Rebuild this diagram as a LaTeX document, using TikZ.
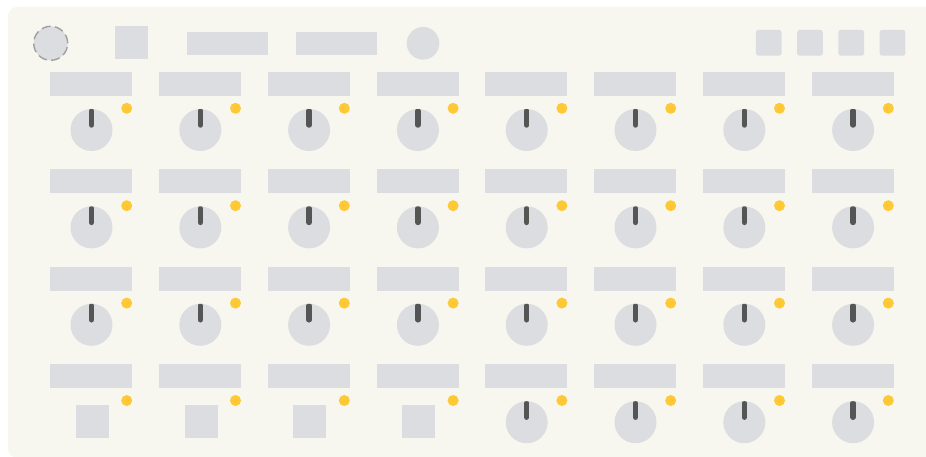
\documentclass[tikz,border=0pt]{standalone}
\usepackage{tikz}
\usetikzlibrary{positioning}
\usepackage{xcolor}
\definecolor{panelbg}{HTML}{F7F6EF}
\definecolor{ctrlgray}{HTML}{DCDDE0}
\definecolor{ptrgray}{HTML}{555555}
\definecolor{ledyellow}{HTML}{FFC935}
\definecolor{rimgray}{HTML}{A0A0A0}
\tikzset{
  namebox/.style={rectangle, fill=ctrlgray, minimum width=82pt, minimum height=24pt, inner sep=0pt},
  knob/.style={circle, fill=ctrlgray, minimum size=42pt, inner sep=0pt,
    path picture={\draw[ptrgray, line width=5.5pt, line cap=round]
      ([yshift=5pt]path picture bounding box.center) -- ([yshift=19pt]path picture bounding box.center);}},
  led/.style={circle, fill=ledyellow, minimum size=11pt, inner sep=0pt},
  padkey/.style={rectangle, fill=ctrlgray, minimum size=33pt, inner sep=0pt},
  minikey/.style={rectangle, rounded corners=2.5pt, fill=ctrlgray, minimum size=25.7pt, inner sep=0pt},
}

\begin{document}
\begin{tikzpicture}[x=1pt, y=-1pt]
  \useasboundingbox (0, 0) rectangle (926, 457);
  \fill[white] (0, 0) rectangle (926, 457);
  \fill[panelbg, rounded corners=9pt] (8, 7) rectangle (940, 457.5);
  % top strip
  \node[circle, fill=ctrlgray, draw=rimgray, line width=1.4pt, dash pattern=on 9pt off 4.4pt, minimum size=34pt, inner sep=0pt] (encoder) at (50.70, 43.30) {};
  \node[padkey] (shiftkey) at (131.30, 43.00) {};
  \node[namebox, minimum width=81.5pt, minimum height=23.3pt] (display1) at (227.50, 43.70) {};
  \node[namebox, minimum width=81.5pt, minimum height=23.3pt] (display2) at (336.30, 43.70) {};
  \node[circle, fill=ctrlgray, minimum size=32.6pt, inner sep=0pt] (button) at (423.00, 43.30) {};
  \node[minikey] (mkey1) at (768.80, 42.80) {};
  \node[minikey] (mkey2) at (810.00, 42.80) {};
  \node[minikey] (mkey3) at (851.20, 42.80) {};
  \node[minikey] (mkey4) at (892.50, 42.80) {};
  % row 1
  \node[namebox] (name11) at (91.20, 84.00) {};
  \node[namebox] (name12) at (200.00, 84.00) {};
  \node[namebox] (name13) at (308.80, 84.00) {};
  \node[namebox] (name14) at (417.60, 84.00) {};
  \node[namebox] (name15) at (526.40, 84.00) {};
  \node[namebox] (name16) at (635.20, 84.00) {};
  \node[namebox] (name17) at (744.00, 84.00) {};
  \node[namebox] (name18) at (852.80, 84.00) {};
  \node[knob] (knob11) at (91.50, 130.00) {};
  \node[knob] (knob12) at (200.30, 130.00) {};
  \node[knob] (knob13) at (309.10, 130.00) {};
  \node[knob] (knob14) at (417.90, 130.00) {};
  \node[knob] (knob15) at (526.70, 130.00) {};
  \node[knob] (knob16) at (635.50, 130.00) {};
  \node[knob] (knob17) at (744.30, 130.00) {};
  \node[knob] (knob18) at (853.10, 130.00) {};
  \node[led] (led11) at (126.70, 108.30) {};
  \node[led] (led12) at (235.50, 108.30) {};
  \node[led] (led13) at (344.30, 108.30) {};
  \node[led] (led14) at (453.10, 108.30) {};
  \node[led] (led15) at (561.90, 108.30) {};
  \node[led] (led16) at (670.70, 108.30) {};
  \node[led] (led17) at (779.50, 108.30) {};
  \node[led] (led18) at (888.30, 108.30) {};
  % row 2
  \node[namebox] (name21) at (91.20, 181.40) {};
  \node[namebox] (name22) at (200.00, 181.40) {};
  \node[namebox] (name23) at (308.80, 181.40) {};
  \node[namebox] (name24) at (417.60, 181.40) {};
  \node[namebox] (name25) at (526.40, 181.40) {};
  \node[namebox] (name26) at (635.20, 181.40) {};
  \node[namebox] (name27) at (744.00, 181.40) {};
  \node[namebox] (name28) at (852.80, 181.40) {};
  \node[knob] (knob21) at (91.50, 227.40) {};
  \node[knob] (knob22) at (200.30, 227.40) {};
  \node[knob] (knob23) at (309.10, 227.40) {};
  \node[knob] (knob24) at (417.90, 227.40) {};
  \node[knob] (knob25) at (526.70, 227.40) {};
  \node[knob] (knob26) at (635.50, 227.40) {};
  \node[knob] (knob27) at (744.30, 227.40) {};
  \node[knob] (knob28) at (853.10, 227.40) {};
  \node[led] (led21) at (126.70, 205.70) {};
  \node[led] (led22) at (235.50, 205.70) {};
  \node[led] (led23) at (344.30, 205.70) {};
  \node[led] (led24) at (453.10, 205.70) {};
  \node[led] (led25) at (561.90, 205.70) {};
  \node[led] (led26) at (670.70, 205.70) {};
  \node[led] (led27) at (779.50, 205.70) {};
  \node[led] (led28) at (888.30, 205.70) {};
  % row 3
  \node[namebox] (name31) at (91.20, 278.80) {};
  \node[namebox] (name32) at (200.00, 278.80) {};
  \node[namebox] (name33) at (308.80, 278.80) {};
  \node[namebox] (name34) at (417.60, 278.80) {};
  \node[namebox] (name35) at (526.40, 278.80) {};
  \node[namebox] (name36) at (635.20, 278.80) {};
  \node[namebox] (name37) at (744.00, 278.80) {};
  \node[namebox] (name38) at (852.80, 278.80) {};
  \node[knob] (knob31) at (91.50, 324.80) {};
  \node[knob] (knob32) at (200.30, 324.80) {};
  \node[knob] (knob33) at (309.10, 324.80) {};
  \node[knob] (knob34) at (417.90, 324.80) {};
  \node[knob] (knob35) at (526.70, 324.80) {};
  \node[knob] (knob36) at (635.50, 324.80) {};
  \node[knob] (knob37) at (744.30, 324.80) {};
  \node[knob] (knob38) at (853.10, 324.80) {};
  \node[led] (led31) at (126.70, 303.10) {};
  \node[led] (led32) at (235.50, 303.10) {};
  \node[led] (led33) at (344.30, 303.10) {};
  \node[led] (led34) at (453.10, 303.10) {};
  \node[led] (led35) at (561.90, 303.10) {};
  \node[led] (led36) at (670.70, 303.10) {};
  \node[led] (led37) at (779.50, 303.10) {};
  \node[led] (led38) at (888.30, 303.10) {};
  % row 4
  \node[namebox] (name41) at (91.20, 376.20) {};
  \node[namebox] (name42) at (200.00, 376.20) {};
  \node[namebox] (name43) at (308.80, 376.20) {};
  \node[namebox] (name44) at (417.60, 376.20) {};
  \node[namebox] (name45) at (526.40, 376.20) {};
  \node[namebox] (name46) at (635.20, 376.20) {};
  \node[namebox] (name47) at (744.00, 376.20) {};
  \node[namebox] (name48) at (852.80, 376.20) {};
  \node[padkey] (pad41) at (92.20, 421.80) {};
  \node[padkey] (pad42) at (201.00, 421.80) {};
  \node[padkey] (pad43) at (309.80, 421.80) {};
  \node[padkey] (pad44) at (418.60, 421.80) {};
  \node[knob] (knob45) at (526.70, 422.20) {};
  \node[knob] (knob46) at (635.50, 422.20) {};
  \node[knob] (knob47) at (744.30, 422.20) {};
  \node[knob] (knob48) at (853.10, 422.20) {};
  \node[led] (led41) at (126.70, 400.50) {};
  \node[led] (led42) at (235.50, 400.50) {};
  \node[led] (led43) at (344.30, 400.50) {};
  \node[led] (led44) at (453.10, 400.50) {};
  \node[led] (led45) at (561.90, 400.50) {};
  \node[led] (led46) at (670.70, 400.50) {};
  \node[led] (led47) at (779.50, 400.50) {};
  \node[led] (led48) at (888.30, 400.50) {};
\end{tikzpicture}
\end{document}
